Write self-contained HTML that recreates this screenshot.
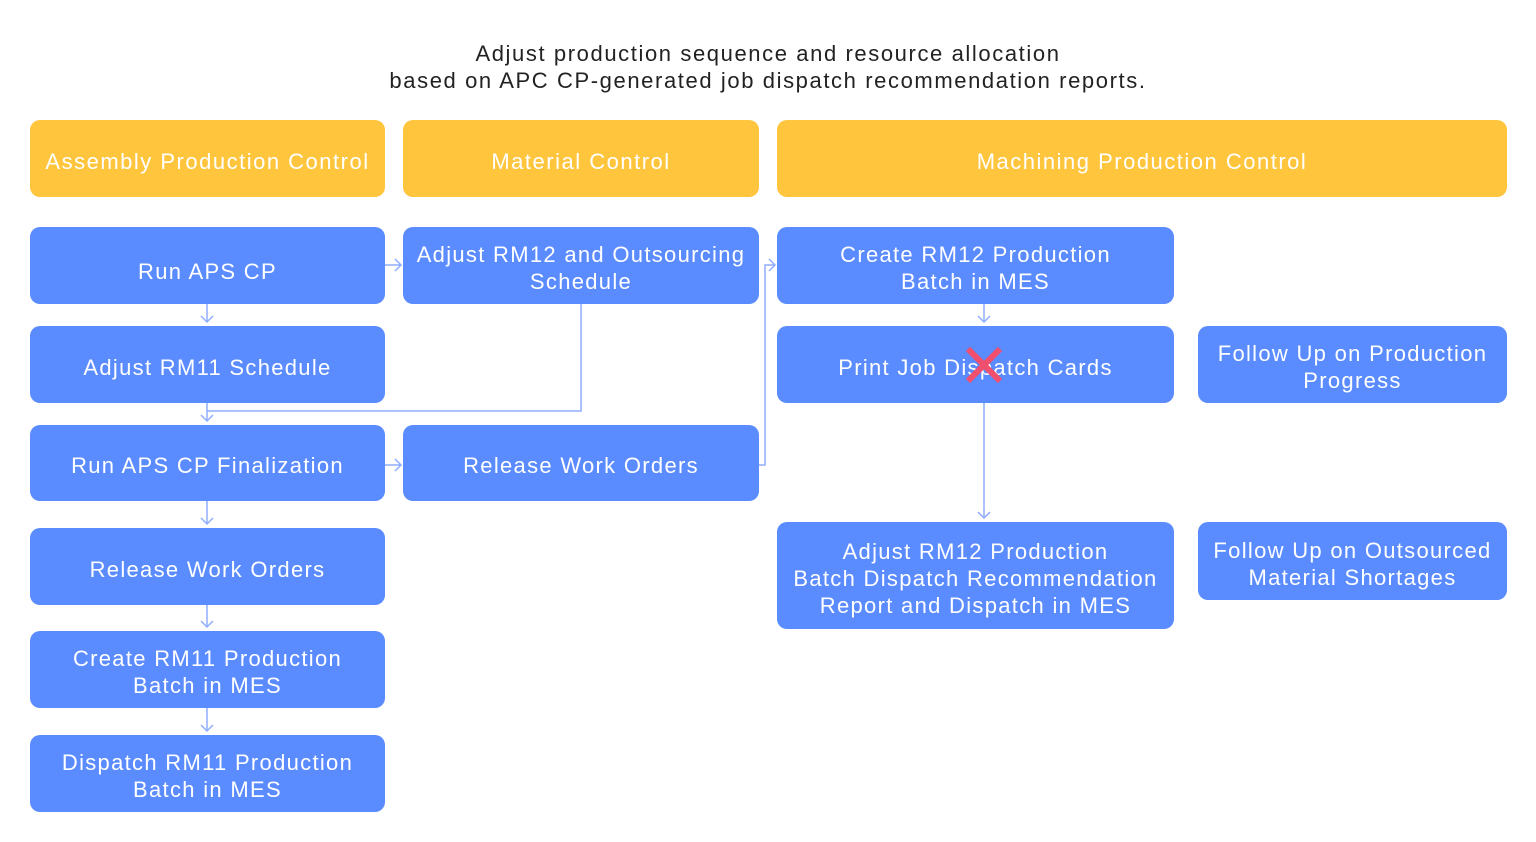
<!DOCTYPE html>
<html><head><meta charset="utf-8"><style>
body{margin:0;width:1536px;height:842px;background:#fff;position:relative;overflow:hidden;font-family:"Liberation Sans","DejaVu Sans",sans-serif;}
.t{position:absolute;left:0;width:1536px;text-align:center;font-size:22px;color:#222;letter-spacing:1.6px;line-height:27px;top:40px}
.b{position:absolute;display:flex;align-items:center;justify-content:center;text-align:center;color:#fff;font-size:22px;letter-spacing:1.3px;line-height:27px;border-radius:10px;box-sizing:border-box;padding:5px 6px 0}
.h{background:#FFC53D;letter-spacing:1.5px}
.u{background:#5A8BFF}
svg{position:absolute;left:0;top:0}
</style></head><body>
<div class="t">Adjust production sequence and resource allocation<br>based on APC CP-generated job dispatch recommendation reports.</div>
<div class="b h" style="left:30px;top:120px;width:355px;height:77px">Assembly Production Control</div>
<div class="b h" style="left:403px;top:120px;width:356px;height:77px">Material Control</div>
<div class="b h" style="left:777px;top:120px;width:730px;height:77px">Machining Production Control</div>

<div class="b u" style="left:30px;top:227px;width:355px;height:77px;padding-top:12px">Run APS CP</div>
<div class="b u" style="left:30px;top:326px;width:355px;height:77px">Adjust RM11 Schedule</div>
<div class="b u" style="left:30px;top:425px;width:355px;height:76px">Run APS CP Finalization</div>
<div class="b u" style="left:30px;top:528px;width:355px;height:77px">Release Work Orders</div>
<div class="b u" style="left:30px;top:631px;width:355px;height:77px">Create RM11 Production<br>Batch in MES</div>
<div class="b u" style="left:30px;top:735px;width:355px;height:77px">Dispatch RM11 Production<br>Batch in MES</div>

<div class="b u" style="left:403px;top:227px;width:356px;height:77px">Adjust RM12 and Outsourcing<br>Schedule</div>
<div class="b u" style="left:403px;top:425px;width:356px;height:76px">Release Work Orders</div>

<div class="b u" style="left:777px;top:227px;width:397px;height:77px">Create RM12 Production<br>Batch in MES</div>
<div class="b u" style="left:777px;top:326px;width:397px;height:77px;padding-top:6px">Print Job Dispatch Cards</div>
<div class="b u" style="left:777px;top:522px;width:397px;height:107px">Adjust RM12 Production<br>Batch Dispatch Recommendation<br>Report and Dispatch in MES</div>

<div class="b u" style="left:1198px;top:326px;width:309px;height:77px">Follow Up on Production<br>Progress</div>
<div class="b u" style="left:1198px;top:522px;width:309px;height:78px">Follow Up on Outsourced<br>Material Shortages</div>

<svg width="1536" height="842" fill="none" stroke="#8FAEFF" stroke-width="1.5">
<path d="M207 304V322M201 316l6 6 6-6"/>
<path d="M207 403V421M201 415l6 6 6-6"/>
<path d="M207 501V524M201 518l6 6 6-6"/>
<path d="M207 605V627M201 621l6 6 6-6"/>
<path d="M207 708V731M201 725l6 6 6-6"/>
<path d="M581 304V411H207"/>
<path d="M385 265H401M395 259l6 6-6 6"/>
<path d="M385 465H401M395 459l6 6-6 6"/>
<path d="M759 465H765V265H775M769 259l6 6-6 6"/>
<path d="M984 304V322M978 316l6 6 6-6"/>
<path d="M984 403V518M978 512l6 6 6-6"/>
<g stroke="#F0506E" stroke-width="6"><path d="M968 349L1000 381M1000 349L968 381"/></g>
</svg>
</body></html>
